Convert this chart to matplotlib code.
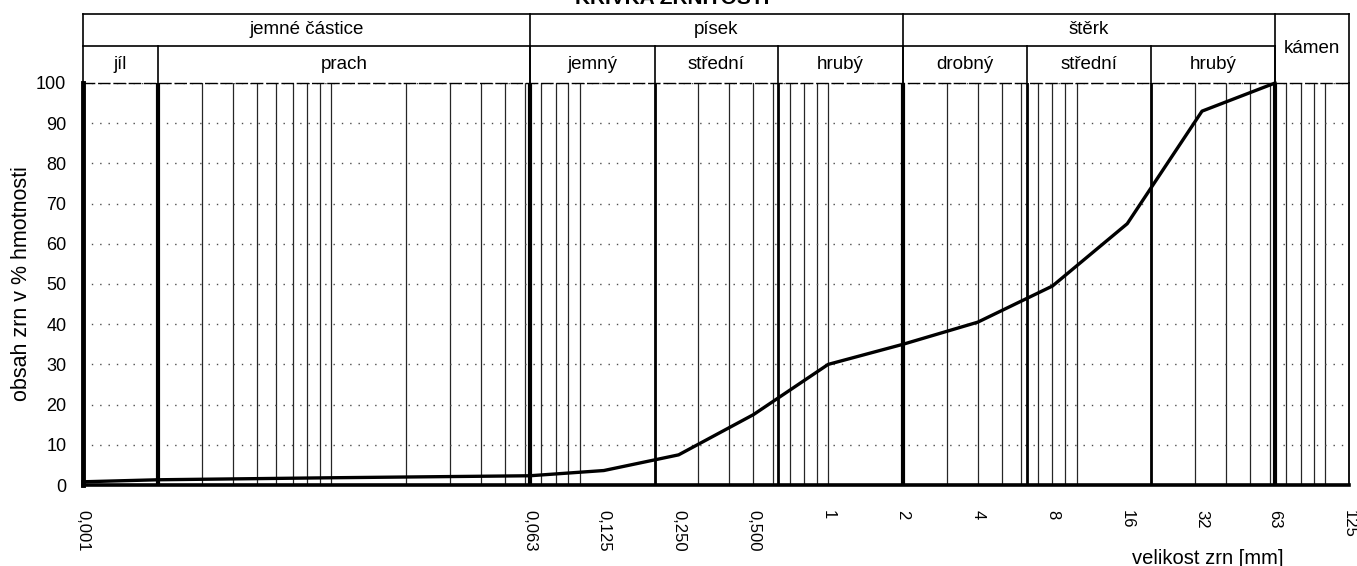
import numpy as np
import matplotlib
matplotlib.use("Agg")
import matplotlib.pyplot as plt
from matplotlib.ticker import FixedLocator, FixedFormatter, LogLocator, NullFormatter

plt.rcParams['font.family'] = ['Liberation Sans', 'DejaVu Sans']

# Grain-size distribution (cumulative passing, % by mass)
grain_size_mm = [0.001, 0.002, 0.01, 0.063, 0.125, 0.25, 0.5, 1, 2, 4, 8, 16, 32, 63]
passing_pct = [0.8, 1.3, 1.8, 2.3, 3.6, 7.5, 17.5, 30.0, 35.0, 40.5, 49.5, 65.0, 93.0, 100.0]

# Axis ticks
tick_values = [0.001, 0.063, 0.125, 0.25, 0.5, 1, 2, 4, 8, 16, 32, 63, 125]
tick_labels = ["0,001", "0,063", "0,125", "0,250", "0,500", "1", "2", "4",
               "8", "16", "32", "63", "125"]
y_ticks = list(range(0, 101, 10))

# Soil fraction classification (limits in mm)
group_names = ["jemné částice", "písek", "štěrk"]
group_limits = [(0.001, 0.063), (0.063, 2), (2, 63)]
sub_names = ["jíl", "prach", "jemný", "střední", "hrubý", "drobný", "střední", "hrubý"]
sub_limits = [(0.001, 0.002), (0.002, 0.063), (0.063, 0.2), (0.2, 0.63),
              (0.63, 2), (2, 6.3), (6.3, 20), (20, 63)]
boulder_name = "kámen"
boulder_limits = (63, 125)

W, H = 1357, 566


def fx(px):
    return px / W


def fy(py):
    return 1 - py / H


fig = plt.figure(figsize=(W / 100, H / 100), dpi=100)
fig.patch.set_facecolor("white")

X0, X1, Y_TOP, Y_BOT, HDR_TOP, HDR_MID = 83, 1349, 83, 485, 14, 46
ax = fig.add_axes([fx(X0), fy(Y_BOT), fx(X1) - fx(X0), fy(Y_TOP) - fy(Y_BOT)])
hdr = fig.add_axes([fx(X0), fy(Y_TOP), fx(X1) - fx(X0), fy(HDR_TOP) - fy(Y_TOP)])

xmin, xmax = tick_values[0], tick_values[-1]

# ---- main plot ----
ax.set_xscale("log")
ax.set_xlim(xmin, xmax)
ax.set_ylim(0, 100)
ax.xaxis.set_major_locator(FixedLocator(tick_values))
ax.xaxis.set_major_formatter(FixedFormatter(tick_labels))
ax.xaxis.set_minor_locator(LogLocator(base=10, subs=np.arange(1, 10), numticks=100))
ax.xaxis.set_minor_formatter(NullFormatter())
ax.xaxis.remove_overlapping_locs = False
ax.set_yticks(y_ticks)
ax.tick_params(axis="x", which="both", length=0)
ax.tick_params(axis="x", which="major", labelrotation=-90, pad=18, labelsize=12)
ax.tick_params(axis="y", length=0, pad=12, labelsize=13)
for lbl in ax.get_xticklabels():
    lbl.set_verticalalignment("top")

ax.grid(which="minor", axis="x", color="black", lw=0.9, alpha=0.85)
ax.grid(which="major", axis="x", visible=False)
ax.grid(which="major", axis="y", color="0.3", lw=1.0, linestyle=(0, (1, 5)))

# fraction boundaries
main_limits = [0.002, 0.063, 2, 63]
minor_limits = [0.2, 0.63, 6.3, 20]
for v in main_limits:
    ax.axvline(v, color="black", lw=3.0, zorder=3)
for v in minor_limits:
    ax.axvline(v, color="black", lw=2.0, zorder=3)

for side, lw in [("left", 3.5), ("bottom", 2.6), ("right", 1.3), ("top", 1.0)]:
    ax.spines[side].set_linewidth(lw)
    ax.spines[side].set_color("black")
ax.spines["top"].set_linestyle((0, (8, 3)))

ax.plot(grain_size_mm, passing_pct, color="black", lw=2.4,
        solid_joinstyle="round", zorder=5, clip_on=False)

# ---- classification header ----
hdr.set_xscale("log")
hdr.set_xlim(xmin, xmax)
hdr.set_ylim(0, 1)
hdr.axis("off")
mid = (Y_TOP - HDR_MID) / (Y_TOP - HDR_TOP)
kw = dict(color="black", lw=1.2, clip_on=False)
hdr.plot([xmin, xmax], [1, 1], **kw)
hdr.plot([xmin, boulder_limits[0]], [mid, mid], **kw)
hdr.plot([xmin, xmin], [0, 1], **kw)
hdr.plot([xmax, xmax], [0, 1], **kw)
for lo, hi in group_limits:
    hdr.plot([hi, hi], [0, 1], **kw)
for lo, hi in sub_limits:
    hdr.plot([hi, hi], [0, mid], **kw)

hfs = 13.5
for name, (lo, hi) in zip(group_names, group_limits):
    hdr.text(np.sqrt(lo * hi), (1 + mid) / 2, name, ha="center", va="center", fontsize=hfs)
for name, (lo, hi) in zip(sub_names, sub_limits):
    hdr.text(np.sqrt(lo * hi), mid / 2, name, ha="center", va="center", fontsize=hfs)
hdr.text(np.sqrt(boulder_limits[0] * boulder_limits[1]), 0.5, boulder_name,
         ha="center", va="center", fontsize=hfs)

# ---- titles ----
fig.text(fx(672), fy(4), "KŘIVKA ZRNITOSTI", ha="center", va="baseline",
         fontsize=15, fontweight="bold")
fig.text(fx(22), fy((Y_TOP + Y_BOT) / 2), "obsah zrn v % hmotnosti", rotation=90,
         ha="center", va="center", fontsize=15.5)
fig.text(fx(1208), fy(564), "velikost zrn [mm]", ha="center", va="baseline",
         fontsize=14.5)

fig.savefig("out.png", dpi=100, facecolor="white")
